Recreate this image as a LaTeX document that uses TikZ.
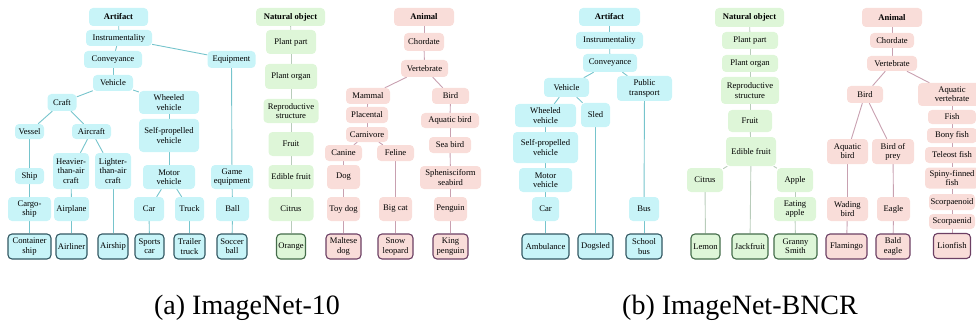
\documentclass[tikz,border=0pt]{standalone}
\usepackage{fontspec}
\setmainfont{Liberation Serif}
\usetikzlibrary{backgrounds}
\definecolor{cyF}{RGB}{200,244,248}
\definecolor{cyE}{RGB}{118,196,204}
\definecolor{cyD}{RGB}{50,88,98}
\definecolor{grF}{RGB}{222,246,216}
\definecolor{grE}{RGB}{184,204,186}
\definecolor{grD}{RGB}{68,108,74}
\definecolor{pkF}{RGB}{249,221,217}
\definecolor{pkE}{RGB}{200,160,176}
\definecolor{pkD}{RGB}{108,64,100}
\tikzset{
  nd/.style={rounded corners=4pt, inner sep=1pt, align=center, font=\fontsize{8.6}{9.2}\selectfont},
  wh/.style 2 args={minimum width=#1pt, minimum height=#2pt},
  cy/.style={nd, fill=cyF},
  cyl/.style={nd, fill=cyF, draw=cyD, line width=1.1pt},
  gr/.style={nd, fill=grF},
  grl/.style={nd, fill=grF, draw=grD, line width=1.1pt},
  pk/.style={nd, fill=pkF},
  pkl/.style={nd, fill=pkF, draw=pkD, line width=1.1pt},
  ecy/.style={draw=cyE, line width=0.9pt},
  egr/.style={draw=grE, line width=0.9pt},
  epk/.style={draw=pkE, line width=0.9pt},
  captxt/.style={font=\fontsize{28}{31}\selectfont, anchor=base}
}
\begin{document}
\begin{tikzpicture}[x=1pt,y=-1pt]
\useasboundingbox (0,0) rectangle (976,326);
% ---------- (a) Artifact ----------
\node[cy,wh={59}{18}] (aart) at (118.5,17) {\textbf{Artifact}};
\node[cy,wh={66}{16}] (ains) at (119,38) {Instrumentality};
\node[cy,wh={58}{17}] (acon) at (113,59.5) {Conveyance};
\node[cy,wh={48}{17}] (aequ) at (231.5,59.5) {Equipment};
\node[cy,wh={40}{16}] (aveh) at (113,83) {Vehicle};
\node[cy,wh={29}{17}] (acra) at (62,102.5) {Craft};
\node[cy,wh={60}{23}] (awhe) at (169,102.5) {Wheeled\\vehicle};
\node[cy,wh={60}{33}] (asel) at (169,135.5) {Self-propelled\\vehicle};
\node[cy,wh={29}{15}] (aves) at (29.5,131.5) {Vessel};
\node[cy,wh={39}{15}] (aair) at (91.5,131.5) {Aircraft};
\node[cy,wh={36}{36}] (ahea) at (71,171) {Heavier-\\than-air\\craft};
\node[cy,wh={36}{36}] (alig) at (113,171) {Lighter-\\than-air\\craft};
\node[cy,wh={29}{16}] (ashi) at (29.5,176) {Ship};
\node[cy,wh={52}{24}] (amot) at (169,177) {Motor\\vehicle};
\node[cy,wh={42}{24}] (agam) at (232,177) {Game\\equipment};
\node[cy,wh={43}{24}] (acgs) at (29.5,209) {Cargo-\\ship};
\node[cy,wh={35}{24}] (aapl) at (71.5,209) {Airplane};
\node[cy,wh={30}{24}] (acar) at (149,209) {Car};
\node[cy,wh={29}{24}] (atru) at (189.5,209) {Truck};
\node[cy,wh={33}{24}] (abal) at (232.5,209) {Ball};
\node[cyl,wh={43}{25}] (acts) at (29.5,246.5) {Container\\ship};
\node[cyl,wh={31}{25}] (aaln) at (71.5,246.5) {Airliner};
\node[cyl,wh={30}{25}] (aasp) at (113,246.5) {Airship};
\node[cyl,wh={29}{25}] (aspc) at (149.5,246.5) {Sports\\car};
\node[cyl,wh={31}{25}] (attr) at (189.5,246.5) {Trailer\\truck};
\node[cyl,wh={30}{25}] (ascb) at (232,246.5) {Soccer\\ball};
% ---------- (a) Natural object ----------
\node[gr,wh={69}{18}] (nnat) at (290.5,17) {\textbf{Natural object}};
\node[gr,wh={50}{24}] (nppa) at (291,42) {Plant part};
\node[gr,wh={52}{25}] (npor) at (291,76.5) {Plant organ};
\node[gr,wh={55}{24}] (nrep) at (291,111) {Reproductive\\structure};
\node[gr,wh={45}{24}] (nfru) at (291,144) {Fruit};
\node[gr,wh={45}{24}] (nedi) at (291,177) {Edible fruit};
\node[gr,wh={45}{24}] (ncit) at (291,209) {Citrus};
\node[grl,wh={29}{25}] (nora) at (291,246.5) {Orange};
% ---------- (a) Animal ----------
\node[pk,wh={60}{18}] (mani) at (424,17) {\textbf{Animal}};
\node[pk,wh={40}{18}] (mcho) at (424,42) {Chordate};
\node[pk,wh={47}{17}] (mver) at (424.5,68.5) {Vertebrate};
\node[pk,wh={44}{16}] (mmam) at (368,96) {Mammal};
\node[pk,wh={37}{16}] (mbir) at (450.5,96) {Bird};
\node[pk,wh={42}{16}] (mpla) at (367,115) {Placental};
\node[pk,wh={42}{15}] (mcar) at (367,134.5) {Carnivore};
\node[pk,wh={58}{15}] (maqb) at (450,120.5) {Aquatic bird};
\node[pk,wh={42}{16}] (mseb) at (450,145) {Sea bird};
\node[pk,wh={37}{16}] (mcan) at (343.5,153) {Canine};
\node[pk,wh={37}{16}] (mfel) at (395.5,153) {Feline};
\node[pk,wh={33}{24}] (mdog) at (343.5,177) {Dog};
\node[pk,wh={61}{23}] (msph) at (450.5,177.5) {Sphenisciform\\seabird};
\node[pk,wh={33}{24}] (mtoy) at (343.5,209) {Toy dog};
\node[pk,wh={33}{24}] (mbca) at (395.5,209) {Big cat};
\node[pk,wh={33}{24}] (mpen) at (450.5,209) {Penguin};
\node[pkl,wh={35}{25}] (mmal) at (343.5,246.5) {Maltese\\dog};
\node[pkl,wh={35}{25}] (msnl) at (395.5,246.5) {Snow\\leopard};
\node[pkl,wh={35}{25}] (mkpe) at (450.5,246.5) {King\\penguin};
% ---------- (b) Artifact ----------
\node[cy,wh={61}{18}] (bart) at (609.5,17) {\textbf{Artifact}};
\node[cy,wh={67}{17}] (bins) at (609.5,40.5) {Instrumentality};
\node[cy,wh={54}{18}] (bcon) at (610,63) {Conveyance};
\node[cy,wh={45}{19}] (bveh) at (566.5,87.5) {Vehicle};
\node[cy,wh={55}{25}] (bpub) at (644.5,88.5) {Public\\transport};
\node[cy,wh={61}{23}] (bwhe) at (545.5,115.5) {Wheeled\\vehicle};
\node[cy,wh={29}{24}] (bsle) at (595.5,115) {Sled};
\node[cy,wh={65}{31}] (bsel) at (545.5,147.5) {Self-propelled\\vehicle};
\node[cy,wh={53}{24}] (bmot) at (545.5,180) {Motor\\vehicle};
\node[cy,wh={27}{24}] (bcar) at (545.5,209) {Car};
\node[cy,wh={30}{24}] (bbus) at (644,209) {Bus};
\node[cyl,wh={47}{25}] (bamb) at (545.5,246.5) {Ambulance};
\node[cyl,wh={35}{25}] (bdsl) at (595.5,246.5) {Dogsled};
\node[cyl,wh={36}{25}] (bscb) at (644,246.5) {School\\bus};
% ---------- (b) Natural object ----------
\node[gr,wh={69}{19}] (cnat) at (749.5,17.5) {\textbf{Natural object}};
\node[gr,wh={56}{17}] (cppa) at (750,40.5) {Plant part};
\node[gr,wh={56}{17}] (cpor) at (750,63.5) {Plant organ};
\node[gr,wh={58}{27}] (crep) at (750,90.5) {Reproductive\\structure};
\node[gr,wh={44}{22}] (cfru) at (750,121) {Fruit};
\node[gr,wh={50}{29}] (cedi) at (751,151.5) {Edible fruit};
\node[gr,wh={36}{24}] (ccit) at (705,180) {Citrus};
\node[gr,wh={36}{24}] (capp) at (795,180) {Apple};
\node[gr,wh={42}{24}] (ceat) at (795,209) {Eating\\apple};
\node[grl,wh={29}{25}] (clem) at (705.5,246.5) {Lemon};
\node[grl,wh={36}{25}] (cjac) at (750,246.5) {Jackfruit};
\node[grl,wh={43}{25}] (cgra) at (795.5,246.5) {Granny\\Smith};
% ---------- (b) Animal ----------
\node[pk,wh={60}{19}] (dani) at (892,17.5) {\textbf{Animal}};
\node[pk,wh={44}{15}] (dcho) at (892,40.5) {Chordate};
\node[pk,wh={50}{15}] (dver) at (892,63.5) {Vertebrate};
\node[pk,wh={36}{17}] (dbir) at (865,94.5) {Bird};
\node[pk,wh={68}{23}] (daqv) at (952,94.5) {Aquatic\\vertebrate};
\node[pk,wh={48}{14}] (dfis) at (952,117) {Fish};
\node[pk,wh={50}{15}] (dbon) at (952,135.5) {Bony fish};
\node[pk,wh={54}{16}] (dtel) at (952,155) {Teleost fish};
\node[pk,wh={54}{21}] (dspi) at (952,178) {Spiny-finned\\fish};
\node[pk,wh={46}{16}] (dsco) at (952,202) {Scorpaenoid};
\node[pk,wh={46}{15}] (dscd) at (952,221.5) {Scorpaenid};
\node[pkl,wh={37}{25}] (dlio) at (952,246) {Lionfish};
\node[pk,wh={41}{25}] (daqb) at (847.5,151.5) {Aquatic\\bird};
\node[pk,wh={42}{25}] (dbop) at (893,151.5) {Bird of\\prey};
\node[pk,wh={41}{24}] (dwad) at (847.5,209) {Wading\\bird};
\node[pk,wh={33}{24}] (deag) at (893.5,209) {Eagle};
\node[pkl,wh={41}{25}] (dfla) at (846.5,246.5) {Flamingo};
\node[pkl,wh={34}{25}] (dbal) at (893,246.5) {Bald\\eagle};
% ---------- captions ----------
\node[captxt] (capa) at (247,314) {(a) ImageNet-10};
\node[captxt] (capb) at (740,314) {(b) ImageNet-BNCR};
% ---------- edges ----------
\begin{scope}[on background layer]
\foreach \u/\v in {aart/ains, ains/acon, ains/aequ, acon/aveh, aveh/acra, aveh/awhe,
  awhe/asel, asel/amot, amot/acar, amot/atru, acar/aspc, atru/attr, acra/aves, acra/aair,
  aves/ashi, ashi/acgs, acgs/acts, aair/ahea, aair/alig, ahea/aapl, aapl/aaln, alig/aasp,
  aequ/agam, agam/abal, abal/ascb,
  bart/bins, bins/bcon, bcon/bveh, bcon/bpub, bveh/bwhe, bveh/bsle, bwhe/bsel, bsel/bmot,
  bmot/bcar, bcar/bamb, bsle/bdsl, bpub/bbus, bbus/bscb}
  \draw[ecy] (\u) -- (\v);
\foreach \u/\v in {nnat/nppa, nppa/npor, npor/nrep, nrep/nfru, nfru/nedi, nedi/ncit, ncit/nora,
  cnat/cppa, cppa/cpor, cpor/crep, crep/cfru, cfru/cedi, cedi/ccit, cedi/cjac, cedi/capp,
  ccit/clem, capp/ceat, ceat/cgra}
  \draw[egr] (\u) -- (\v);
\foreach \u/\v in {mani/mcho, mcho/mver, mver/mmam, mver/mbir, mmam/mpla, mpla/mcar,
  mcar/mcan, mcar/mfel, mcan/mdog, mdog/mtoy, mtoy/mmal, mfel/mbca, mbca/msnl,
  mbir/maqb, maqb/mseb, mseb/msph, msph/mpen, mpen/mkpe,
  dani/dcho, dcho/dver, dver/dbir, dver/daqv, dbir/daqb, dbir/dbop, daqb/dwad, dwad/dfla,
  dbop/deag, deag/dbal, daqv/dfis, dfis/dbon, dbon/dtel, dtel/dspi, dspi/dsco, dsco/dscd,
  dscd/dlio}
  \draw[epk] (\u) -- (\v);
\end{scope}
\end{tikzpicture}
\end{document}
